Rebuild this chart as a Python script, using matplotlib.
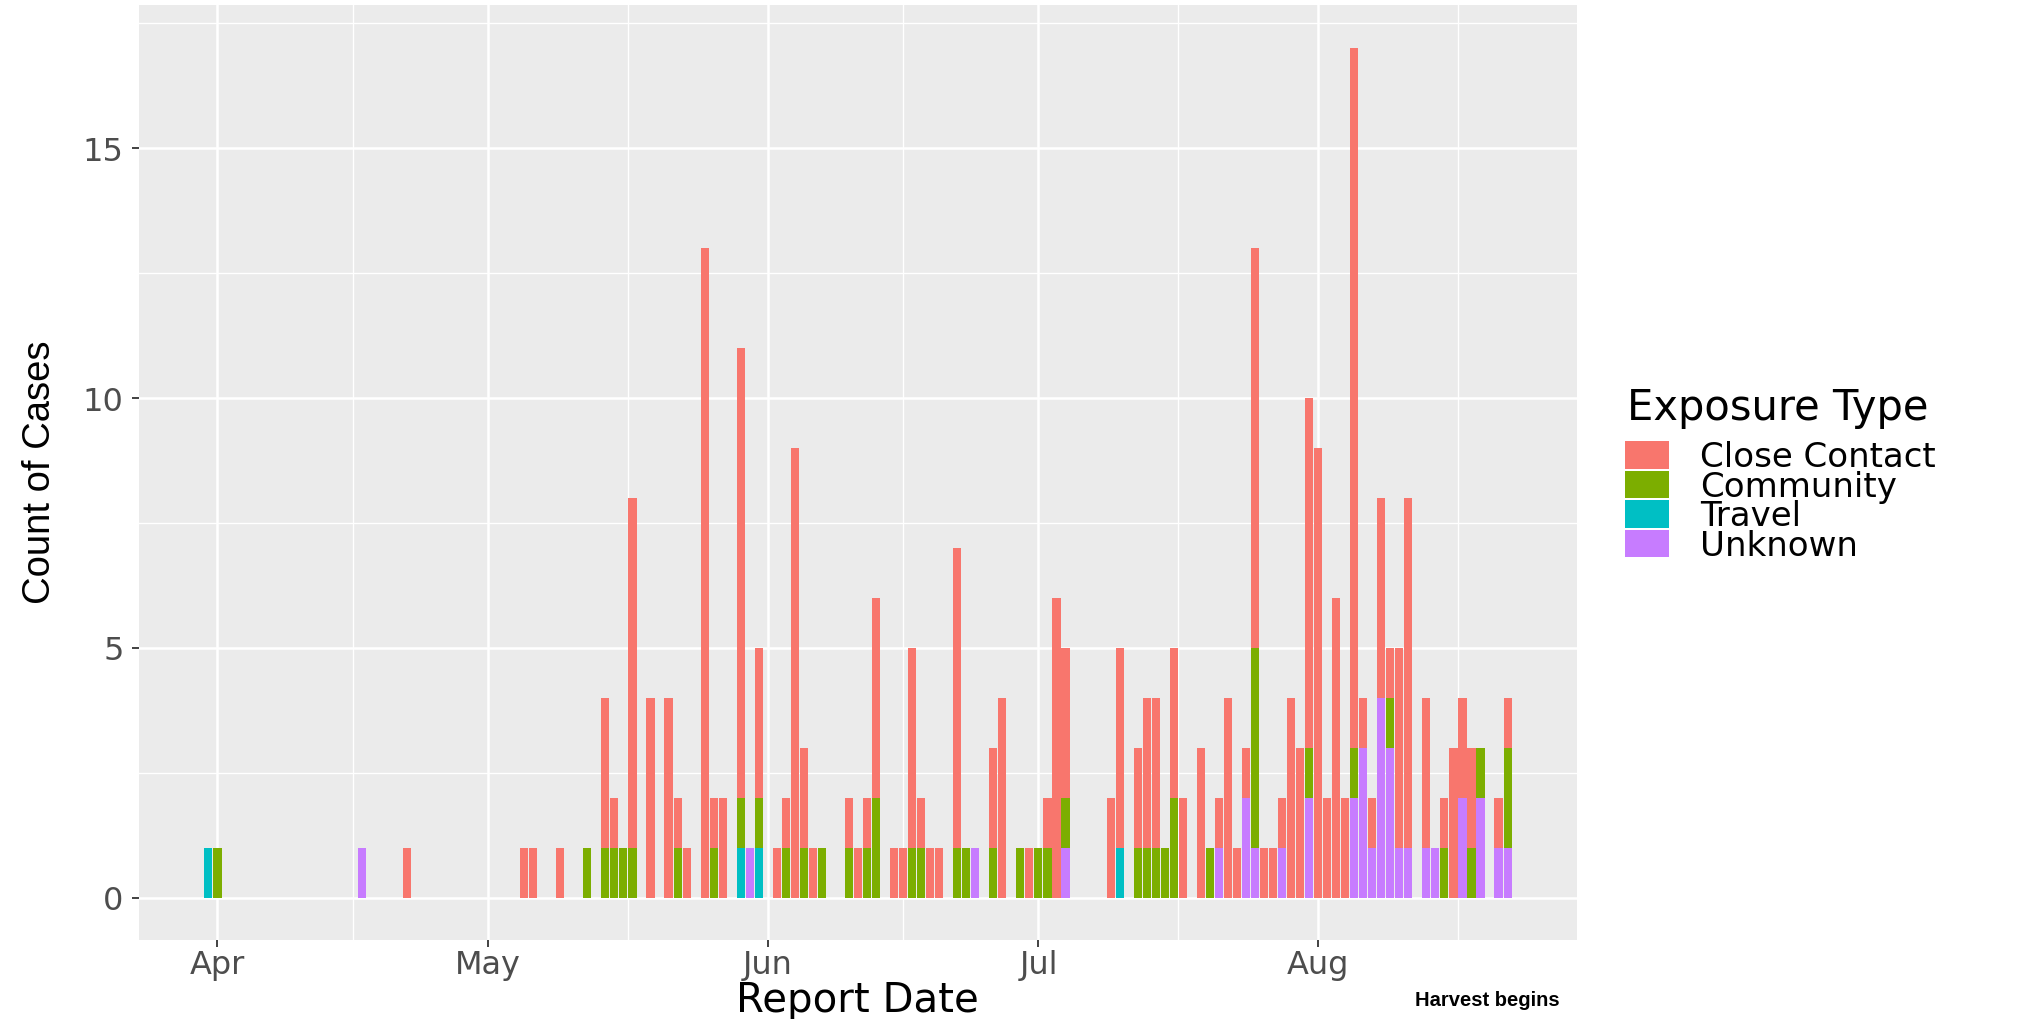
import matplotlib
matplotlib.use("Agg")
import matplotlib.pyplot as plt
import matplotlib.dates as mdates
import matplotlib.ticker as mticker
import numpy as np
import pandas as pd
from matplotlib.patches import Rectangle


# ---------------------------------------------------------------------------
# Data: daily case counts by exposure type
# ---------------------------------------------------------------------------

report_dates = [
    "2020-03-31", "2020-04-01", "2020-04-17", "2020-04-22", "2020-05-05",
    "2020-05-06", "2020-05-09", "2020-05-12", "2020-05-14", "2020-05-15",
    "2020-05-16", "2020-05-17", "2020-05-19", "2020-05-21", "2020-05-22",
    "2020-05-23", "2020-05-25", "2020-05-26", "2020-05-27", "2020-05-29",
    "2020-05-30", "2020-05-31", "2020-06-02", "2020-06-03", "2020-06-04",
    "2020-06-05", "2020-06-06", "2020-06-07", "2020-06-10", "2020-06-11",
    "2020-06-12", "2020-06-13", "2020-06-15", "2020-06-16", "2020-06-17",
    "2020-06-18", "2020-06-19", "2020-06-20", "2020-06-22", "2020-06-23",
    "2020-06-24", "2020-06-26", "2020-06-27", "2020-06-29", "2020-06-30",
    "2020-07-01", "2020-07-02", "2020-07-03", "2020-07-04", "2020-07-09",
    "2020-07-10", "2020-07-12", "2020-07-13", "2020-07-14", "2020-07-15",
    "2020-07-16", "2020-07-17", "2020-07-19", "2020-07-20", "2020-07-21",
    "2020-07-22", "2020-07-23", "2020-07-24", "2020-07-25", "2020-07-26",
    "2020-07-27", "2020-07-28", "2020-07-29", "2020-07-30", "2020-07-31",
    "2020-08-01", "2020-08-02", "2020-08-03", "2020-08-04", "2020-08-05",
    "2020-08-06", "2020-08-07", "2020-08-08", "2020-08-09", "2020-08-10",
    "2020-08-11", "2020-08-13", "2020-08-14", "2020-08-15", "2020-08-16",
    "2020-08-17", "2020-08-18", "2020-08-19", "2020-08-21", "2020-08-22",
]

close_contact = [
    0, 0, 0, 1, 1,
    1, 1, 0, 3, 1,
    0, 7, 4, 4, 1,
    1, 13, 1, 2, 9,
    0, 3, 1, 1, 9,
    2, 1, 0, 1, 1,
    1, 4, 1, 1, 4,
    1, 1, 1, 6, 0,
    0, 2, 4, 0, 1,
    0, 1, 6, 3, 2,
    4, 2, 3, 3, 0,
    3, 2, 3, 0, 1,
    4, 1, 1, 8, 1,
    1, 1, 4, 3, 7,
    9, 2, 6, 2, 14,
    1, 1, 4, 1, 4,
    7, 3, 0, 1, 3,
    2, 2, 0, 1, 1,
]

community = [
    0, 1, 0, 0, 0,
    0, 0, 1, 1, 1,
    1, 1, 0, 0, 1,
    0, 0, 1, 0, 1,
    0, 1, 0, 1, 0,
    1, 0, 1, 1, 0,
    1, 2, 0, 0, 1,
    1, 0, 0, 1, 1,
    0, 1, 0, 1, 0,
    1, 1, 0, 1, 0,
    0, 1, 1, 1, 1,
    2, 0, 0, 1, 0,
    0, 0, 0, 4, 0,
    0, 0, 0, 0, 1,
    0, 0, 0, 0, 1,
    0, 0, 0, 1, 0,
    0, 0, 0, 1, 0,
    0, 1, 1, 0, 2,
]

travel = [
    1, 0, 0, 0, 0,
    0, 0, 0, 0, 0,
    0, 0, 0, 0, 0,
    0, 0, 0, 0, 1,
    0, 1, 0, 0, 0,
    0, 0, 0, 0, 0,
    0, 0, 0, 0, 0,
    0, 0, 0, 0, 0,
    0, 0, 0, 0, 0,
    0, 0, 0, 0, 0,
    1, 0, 0, 0, 0,
    0, 0, 0, 0, 0,
    0, 0, 0, 0, 0,
    0, 0, 0, 0, 0,
    0, 0, 0, 0, 0,
    0, 0, 0, 0, 0,
    0, 0, 0, 0, 0,
    0, 0, 0, 0, 0,
]

unknown = [
    0, 0, 1, 0, 0,
    0, 0, 0, 0, 0,
    0, 0, 0, 0, 0,
    0, 0, 0, 0, 0,
    1, 0, 0, 0, 0,
    0, 0, 0, 0, 0,
    0, 0, 0, 0, 0,
    0, 0, 0, 0, 0,
    1, 0, 0, 0, 0,
    0, 0, 0, 1, 0,
    0, 0, 0, 0, 0,
    0, 0, 0, 0, 1,
    0, 0, 2, 1, 0,
    0, 1, 0, 0, 2,
    0, 0, 0, 0, 2,
    3, 1, 4, 3, 1,
    1, 1, 1, 0, 0,
    2, 0, 2, 1, 1,
]

categories = ["Close Contact", "Community", "Travel", "Unknown"]
colors = ["#F8766D", "#7CAE00", "#00BFC4", "#C77CFF"]

# ---------------------------------------------------------------------------
# Layout (pixels of the 2024x1020 output)
# ---------------------------------------------------------------------------

W, H = 2024, 1020
PANEL = dict(left=139, right=1577, top=6, bottom=941)
BG = "#EBEBEB"
TICK_GREY = "#4D4D4D"
ARIAL = ["Liberation Sans", "DejaVu Sans"]


def fx(px):
    return px / W


def fy(py):
    return 1 - py / H


fig = plt.figure(figsize=(W / 100, H / 100), dpi=100)
ax = fig.add_axes([fx(PANEL["left"]), fy(PANEL["bottom"]),
                   fx(PANEL["right"] - PANEL["left"]),
                   (PANEL["bottom"] - PANEL["top"]) / H])
ax.set_facecolor(BG)

dates = pd.to_datetime(report_dates)
x = mdates.date2num(dates)

# Stack from bottom: Unknown, Travel, Community, Close Contact
series = {
    "Close Contact": np.array(close_contact),
    "Community": np.array(community),
    "Travel": np.array(travel),
    "Unknown": np.array(unknown),
}
bottom = np.zeros(len(x))
for name in reversed(categories):
    vals = series[name]
    col = colors[categories.index(name)]
    mask = vals > 0
    ax.bar(x[mask], vals[mask], width=0.9, bottom=bottom[mask],
           color=col, linewidth=0, zorder=2)
    bottom = bottom + vals

# ggplot-like expansion of 5% on both axes
bar_w = 0.9
x_lo, x_hi = x.min() - bar_w / 2, x.max() + bar_w / 2
pad = 0.05 * (x_hi - x_lo)
ax.set_xlim(x_lo - pad, x_hi + pad)
y_top = bottom.max()
ax.set_ylim(-0.05 * y_top, y_top * 1.05)

# Ticks and grid
month_starts = pd.date_range("2020-03-01", "2020-10-01", freq="MS")
ms = mdates.date2num(month_starts)
ax.xaxis.set_major_locator(mticker.FixedLocator(ms))
ax.xaxis.set_minor_locator(mticker.FixedLocator((ms[:-1] + ms[1:]) / 2))
ax.xaxis.set_major_formatter(mdates.DateFormatter("%b"))
ax.yaxis.set_major_locator(mticker.MultipleLocator(5))
ax.yaxis.set_minor_locator(mticker.FixedLocator([2.5, 7.5, 12.5, 17.5]))

ax.grid(which="major", color="white", linewidth=1.8, zorder=0)
ax.grid(which="minor", color="white", linewidth=0.95, zorder=0)
ax.set_axisbelow(True)
for s in ax.spines.values():
    s.set_visible(False)

ax.tick_params(which="major", length=5, width=1.3, color="#333333",
               labelcolor=TICK_GREY, labelsize=23)
ax.tick_params(which="minor", length=0)
ax.tick_params(axis="x", pad=1.5)
ax.tick_params(axis="y", pad=6)

# Axis titles
fig.text(fx(40), fy(472), "Count of Cases", rotation=90, ha="center",
         va="center", fontsize=27.5, family=ARIAL, color="black")
fig.text(fx(857), fy(1012), "Report Date", ha="center", va="baseline",
         fontsize=29, color="black")
fig.text(fx(1487), fy(1001), "Harvest begins", ha="center", va="center",
         fontsize=14.5, fontweight="bold", family=ARIAL, color="black")

# Legend, drawn to match the stretched ggplot guide
fig.text(fx(1627), fy(420), "Exposure Type", ha="left", va="baseline",
         fontsize=30, color="black")
key_top, key_h, key_pitch = 442, 27.5, 29.5
for i, (name, col) in enumerate(zip(categories, colors)):
    top = key_top + i * key_pitch
    fig.add_artist(Rectangle((fx(1625), fy(top + key_h)), fx(44), key_h / H,
                             transform=fig.transFigure, facecolor=col,
                             edgecolor="none"))
    fig.text(fx(1700), fy(top + key_h / 2 + 11.5), name, ha="left",
             va="baseline", fontsize=24.5, color="black")

fig.savefig("out.png", dpi=100)
